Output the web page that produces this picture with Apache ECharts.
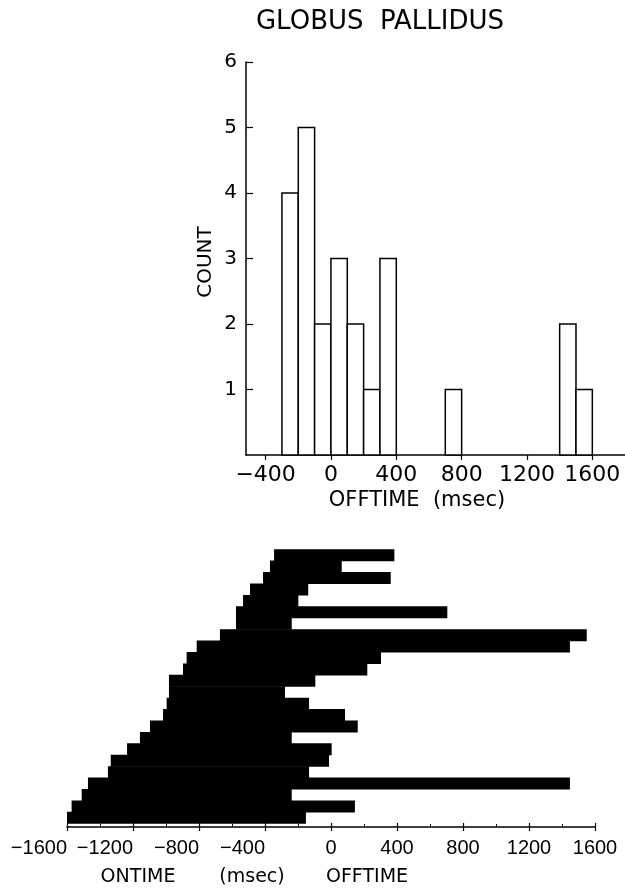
<!DOCTYPE html>
<html>
<head>
<meta charset="utf-8">
<script src="https://cdn.jsdelivr.net/npm/echarts@6/dist/echarts.min.js"></script>
<style>
  html, body { margin: 0; padding: 0; background: #fff; }
  #main { width: 625px; height: 888px; }
</style>
</head>
<body>
<div id="main"></div>
<script>
// histogram of OFFTIME, 100 msec bins
var binStart = [-300, -200, -100, 0, 100, 200, 300, 700, 1400, 1500];
var binCount = [4, 5, 2, 3, 2, 1, 3, 1, 2, 1];
var binWidth = 100;

// raster, one row per trial, top to bottom (msec)
var onTime = [-345, -370, -412, -491, -533, -576, -576, -673, -814, -875, -897, -982,
  -982, -996, -1018, -1097, -1158, -1236, -1335, -1352, -1473, -1511, -1572, -1600];
var offTime = [384, 65, 362, -138, -198, 705, -238, 1550, 1448, 303, 220, -95,
  -279, -133, 85, 162, -238, 4, -12, -133, 1448, -238, 145, -152];

var histTicks = [-400, 0, 400, 800, 1200, 1600];
var rasterTicks = [-1600, -1200, -800, -400, 0, 400, 800, 1200, 1600];
var rasterMinor = [-1400, -1000, -600, -200, 200, 600, 1000, 1400];
var countTicks = [1, 2, 3, 4, 5, 6];

var ink = '#000';
var font = 'DejaVu Sans';

function minus(v) {
  return v < 0 ? '\u2212' + Math.abs(v) : String(v);
}

var chart = echarts.init(document.getElementById('main'));

var histData = binStart.map(function (s, i) {
  return [s, s + binWidth, binCount[i]];
});
var rasterData = onTime.map(function (on, i) {
  return [on, offTime[i], i];
});

var option = {
  backgroundColor: '#fff',
  animation: false,
  grid: [
    { left: 246, top: 62, width: 379, height: 393 },
    { left: 67, top: 549.5, width: 528, height: 277.5 }
  ],
  xAxis: [
    {
      gridIndex: 0, type: 'value', min: -520, max: 1800, position: 'bottom',
      splitLine: { show: false },
      axisLine: { onZero: false, lineStyle: { color: ink, width: 1.5 } },
      axisTick: { customValues: histTicks, length: 5, lineStyle: { color: ink, width: 1.2 } },
      axisLabel: {
        customValues: histTicks, formatter: minus, color: ink,
        fontFamily: font, fontSize: 22, margin: 9
      }
    },
    {
      // main raster axis: line, outer ticks, non-negative labels
      gridIndex: 1, type: 'value', min: -1600, max: 1600, position: 'bottom',
      splitLine: { show: false },
      axisLine: { onZero: false, lineStyle: { color: ink, width: 1.5 } },
      axisTick: { customValues: rasterTicks, length: 4, lineStyle: { color: ink, width: 1.2 } },
      axisLabel: {
        customValues: [0, 400, 800, 1200, 1600], formatter: minus, color: ink,
        fontFamily: 'Liberation Sans', fontSize: 20, margin: 11
      }
    },
    {
      // negative labels sit to the left of their ticks
      gridIndex: 1, type: 'value', min: -1600, max: 1600, position: 'bottom',
      splitLine: { show: false },
      axisLine: { show: false, onZero: false },
      axisTick: { customValues: rasterTicks, inside: true, length: 4, lineStyle: { color: ink, width: 1.2 } },
      axisLabel: {
        customValues: [-1600, -1200, -800, -400], formatter: minus, color: ink, align: 'right',
        fontFamily: 'Liberation Sans', fontSize: 20, margin: 11
      }
    },
    {
      gridIndex: 1, type: 'value', min: -1600, max: 1600, position: 'bottom',
      splitLine: { show: false },
      axisLine: { show: false, onZero: false },
      axisTick: { customValues: rasterMinor, inside: true, length: 3, lineStyle: { color: ink, width: 1 } },
      axisLabel: { show: false }
    }
  ],
  yAxis: [
    {
      gridIndex: 0, type: 'value', min: 0, max: 6, interval: 1,
      splitLine: { show: false },
      axisLine: { show: true, onZero: false, lineStyle: { color: ink, width: 1.5 } },
      axisTick: { show: true, customValues: countTicks, inside: true, length: 7, lineStyle: { color: ink, width: 1.2 } },
      axisLabel: {
        customValues: countTicks, color: ink, fontFamily: font, fontSize: 20, margin: 9
      }
    },
    {
      gridIndex: 1, type: 'value', min: 0, max: 24.3, inverse: true, show: false
    }
  ],
  series: [
    {
      type: 'custom',
      xAxisIndex: 0,
      yAxisIndex: 0,
      data: histData,
      encode: { x: [0, 1], y: 2 },
      renderItem: function (params, api) {
        var p0 = api.coord([api.value(0), api.value(2)]);
        var p1 = api.coord([api.value(1), 0]);
        return {
          type: 'rect',
          shape: { x: p0[0], y: p0[1], width: p1[0] - p0[0], height: p1[1] - p0[1] },
          style: { fill: '#fff', stroke: ink, lineWidth: 1.5 }
        };
      }
    },
    {
      type: 'custom',
      xAxisIndex: 1,
      yAxisIndex: 1,
      data: rasterData,
      encode: { x: [0, 1], y: 2 },
      renderItem: function (params, api) {
        var i = api.value(2);
        var p0 = api.coord([api.value(0), i]);
        var p1 = api.coord([api.value(1), i + 1]);
        return {
          type: 'rect',
          // a hair of overlap so rows don't show seams
          shape: { x: p0[0], y: p0[1] - 0.3, width: p1[0] - p0[0], height: p1[1] - p0[1] + 0.6 },
          style: { fill: ink }
        };
      }
    }
  ],
  graphic: [
    {
      type: 'text', x: 380, y: 22,
      style: { text: 'GLOBUS  PALLIDUS', fill: ink, font: '26px "DejaVu Sans"', align: 'center', verticalAlign: 'middle' }
    },
    {
      type: 'text', x: 206, y: 262, rotation: Math.PI / 2,
      style: { text: 'COUNT', fill: ink, font: '20px "DejaVu Sans"', align: 'center', verticalAlign: 'middle' }
    },
    {
      type: 'text', x: 417, y: 501,
      style: { text: 'OFFTIME  (msec)', fill: ink, font: '21px "DejaVu Sans"', align: 'center', verticalAlign: 'middle' }
    },
    {
      type: 'text', x: 138, y: 877,
      style: { text: 'ONTIME', fill: ink, font: '19px "DejaVu Sans"', align: 'center', verticalAlign: 'middle' }
    },
    {
      type: 'text', x: 252, y: 877,
      style: { text: '(msec)', fill: ink, font: '19px "DejaVu Sans"', align: 'center', verticalAlign: 'middle' }
    },
    {
      type: 'text', x: 367, y: 877,
      style: { text: 'OFFTIME', fill: ink, font: '19px "DejaVu Sans"', align: 'center', verticalAlign: 'middle' }
    }
  ]
};

chart.setOption(option);
</script>
</body>
</html>
